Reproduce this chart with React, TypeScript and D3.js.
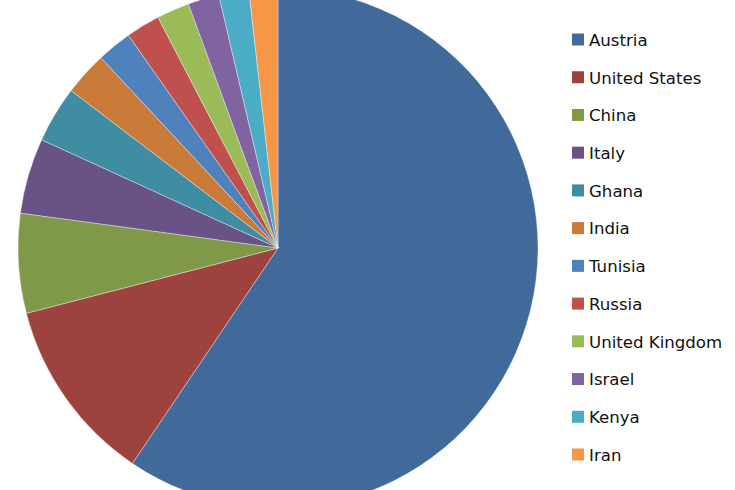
import React from "react";
import * as d3 from "d3";

const countries = [
  "Austria",
  "United States",
  "China",
  "Italy",
  "Ghana",
  "India",
  "Tunisia",
  "Russia",
  "United Kingdom",
  "Israel",
  "Kenya",
  "Iran",
];
const shares = [59.47, 11.5, 6.19, 4.69, 3.52, 2.72, 2.17, 2.12, 2.04, 1.94, 1.87, 1.79];
const colors = [
  "#416A9B",
  "#9D423F",
  "#7F9949",
  "#695285",
  "#3E8DA2",
  "#CB7B39",
  "#4F81BD",
  "#C0504D",
  "#9BBB59",
  "#8064A2",
  "#4BACC6",
  "#F79646",
];

const W = 735;
const H = 490;
const CX = 278;
const CY = 248;
const R = 260;

export default function App() {
  const data = countries.map((c, i) => ({ name: c, value: shares[i], color: colors[i] }));
  const pie = d3
    .pie<any>()
    .value((d: any) => d.value)
    .sort(null)
    .startAngle(0)
    .endAngle(2 * Math.PI);
  const arcs = pie(data);
  const arc = d3.arc<any>().innerRadius(0).outerRadius(R);

  const legendY = d3
    .scalePoint<string>()
    .domain(countries)
    .range([40, 455]);

  return (
    <svg
      width={W}
      height={H}
      style={{ position: "absolute", left: 0, top: 0, display: "block", background: "#fff" }}
    >
      <g transform={`translate(${CX},${CY})`}>
        {arcs.map((a: any, i: number) => (
          <path
            key={i}
            d={arc(a) as string}
            fill={a.data.color}
            stroke="#ffffff"
            strokeOpacity={0.6}
            strokeWidth={0.6}
          />
        ))}
      </g>
      <g>
        {data.map((d, i) => {
          const y = legendY(d.name) as number;
          return (
            <g key={i}>
              <rect x={572} y={y - 6.5} width={12} height={12} fill={d.color} />
              <text
                x={589}
                y={y}
                dy="0.35em"
                fontFamily="'DejaVu Sans', sans-serif"
                fontSize={16.6}
                fill="#111111"
              >
                {d.name}
              </text>
            </g>
          );
        })}
      </g>
    </svg>
  );
}
